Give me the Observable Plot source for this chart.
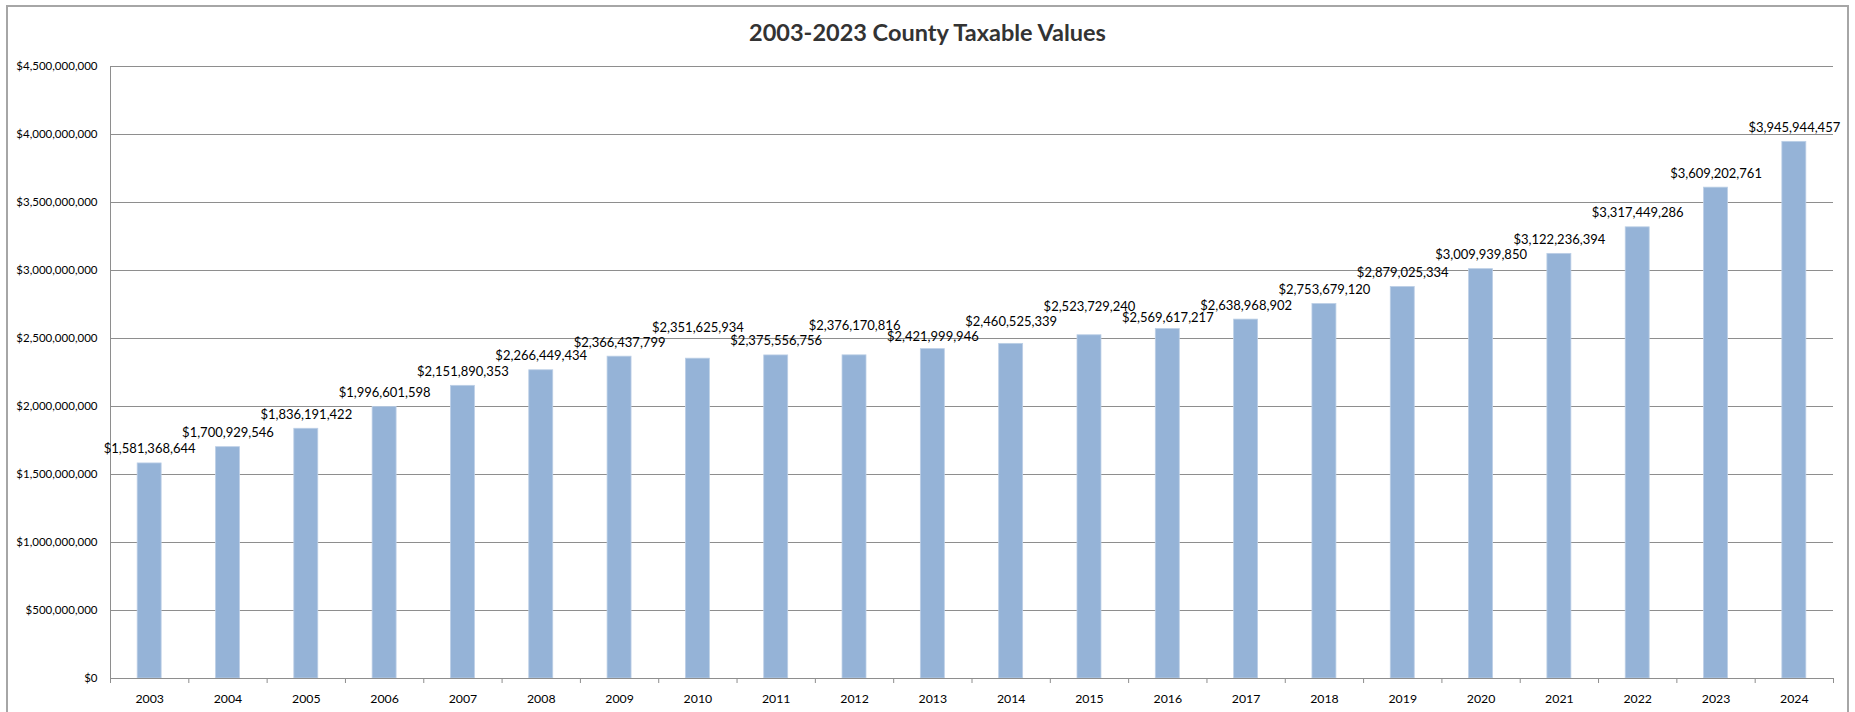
<!DOCTYPE html>
<html>
<head>
<meta charset="utf-8">
<script src="https://cdn.jsdelivr.net/npm/d3@7"></script>
<script src="https://cdn.jsdelivr.net/npm/@observablehq/plot@0.6"></script>
<style>
  html, body { margin: 0; padding: 0; background: #fff; }
  #wrap { position: relative; width: 1855px; height: 712px; overflow: hidden; background: #fff; font-family: Lato, "Open Sans", sans-serif; }
  #frame { position: absolute; left: 6px; top: 5px; width: 1843px; height: 800px; border: 2px solid #a6a6a6; box-sizing: border-box; }
  #title { position: absolute; left: 0; top: 0; width: 1855px; text-align: center; font-weight: 700; font-size: 23.5px; line-height: 1; padding-top: 21px; color: #333; }
  #chart { position: absolute; left: 0; top: 56px; }
</style>
</head>
<body>
<div id="wrap">
  <div id="frame"></div>
  <div id="title"></div>
  <div id="chart"></div>
</div>
<script>
const title = "2003-2023 County Taxable Values";
const years = [2003, 2004, 2005, 2006, 2007, 2008, 2009, 2010, 2011, 2012, 2013, 2014, 2015, 2016, 2017, 2018, 2019, 2020, 2021, 2022, 2023, 2024];
const values = [1581368644, 1700929546, 1836191422, 1996601598, 2151890353, 2266449434, 2366437799, 2351625934, 2375556756, 2376170816, 2421999946, 2460525339, 2523729240, 2569617217, 2638968902, 2753679120, 2879025334, 3009939850, 3122236394, 3317449286, 3609202761, 3945944457];
const yTicks = [0, 500000000, 1000000000, 1500000000, 2000000000, 2500000000, 3000000000, 3500000000, 4000000000, 4500000000];

document.getElementById("title").textContent = title;

const W = 1855, H = 656, mt = 10, mb = 34, ml = 110, mr = 22;
const fmt = d3.format("$,.0f");
const half = 0.153;
const data = years.map((year, i) => ({year, value: values[i]}));
const boundaries = [years[0] - 0.5, ...years.map(y => y + 0.5)];

// label placement (avoid overlaps between neighbouring labels)
const ys = Plot.scale({y: {domain: [0, d3.max(yTicks)], range: [H - mb, mt]}});
const gap = 10, minSep = 11, minAbove = 3, raise = 15;
let prev = null;
const labels = data.map(d => {
  const top = ys.apply(d.value);
  let b = top - gap;
  if (prev !== null && Math.abs(b - prev) < minSep) {
    const down = prev + minSep;
    b = down <= top - minAbove ? down : prev - raise;
  }
  prev = b;
  return {...d, ly: ys.invert(b)};
});

const grid = "#8e8e8e";
const chart = Plot.plot({
  width: W, height: H,
  marginTop: mt, marginBottom: mb, marginLeft: ml, marginRight: mr,
  style: {fontFamily: "Lato, 'Open Sans', sans-serif", fontSize: "12px", color: "#000", background: "transparent", overflow: "visible"},
  x: {type: "linear", domain: [years[0] - 0.5, years[years.length - 1] + 0.5]},
  y: {domain: [0, d3.max(yTicks)]},
  marks: [
    Plot.gridY(yTicks, {stroke: grid, strokeOpacity: 1}),
    Plot.ruleX([boundaries[0]], {stroke: grid, strokeOpacity: 1}),
    Plot.axisY(yTicks, {tickSize: 0, tickPadding: 13, tickFormat: fmt, fontSize: 11.5, label: null}),
    Plot.axisX(boundaries, {tickSize: 5, tickFormat: () => "", stroke: grid, label: null}),
    Plot.axisX(years, {tickSize: 0, tickPadding: 15.5, tickFormat: d => String(d), fontSize: 12.3, label: null}),
    Plot.rectY(data, {x1: d => d.year - half, x2: d => d.year + half, y1: 0, y2: "value", fill: "#95b3d7", stroke: "#bccfe6", strokeWidth: 0.8}),
    Plot.ruleY([0], {stroke: grid}),
    Plot.text(labels, {x: "year", y: "ly", text: d => fmt(d.value), lineAnchor: "bottom", textAnchor: "middle", fontSize: 13, fill: "#000"})
  ]
});
document.getElementById("chart").appendChild(chart);
</script>
</body>
</html>
